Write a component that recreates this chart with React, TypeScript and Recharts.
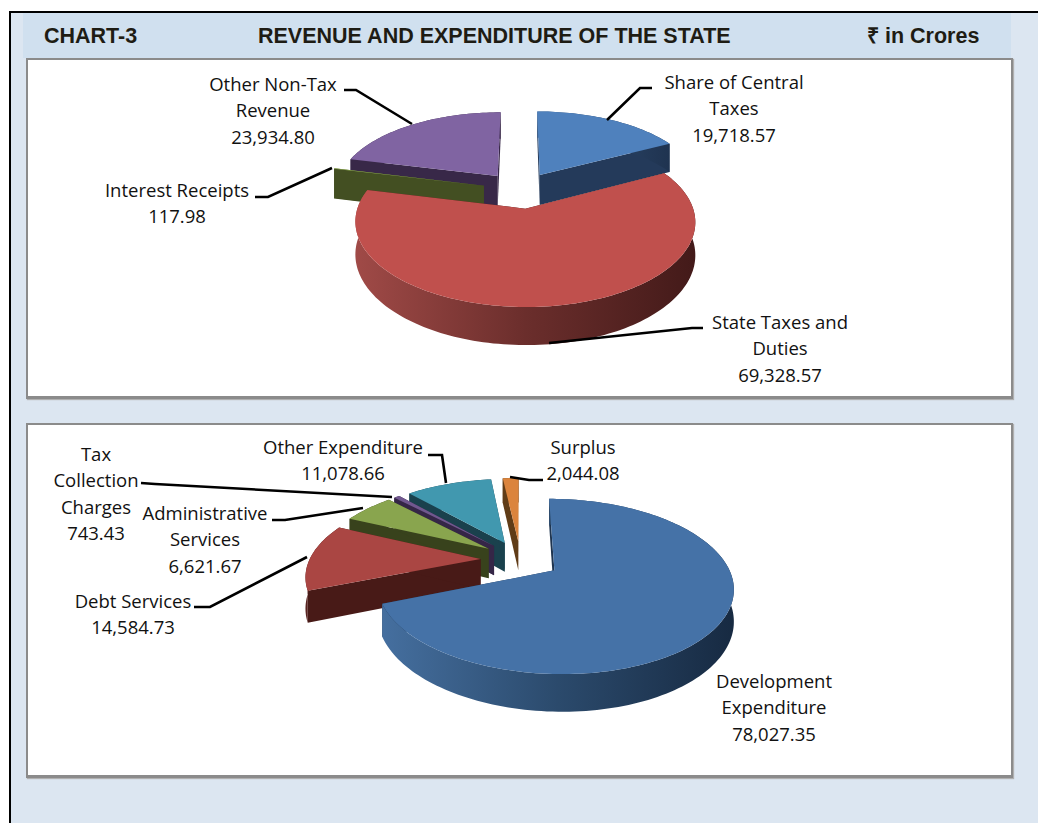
import React from 'react';
import { PieChart, Pie } from 'recharts';

const revenueCategories = ['Share of Central Taxes', 'State Taxes and Duties', 'Interest Receipts', 'Other Non-Tax Revenue'];
const revenueValues = [19718.57, 69328.57, 117.98, 23934.8];
const expenditureCategories = ['Development Expenditure', 'Debt Services', 'Administrative Services', 'Tax Collection Charges', 'Other Expenditure', 'Surplus'];
const expenditureValues = [78027.35, 14584.73, 6621.67, 743.43, 11078.66, 2044.08];

const revenueTable = revenueCategories.map((name, i) => ({ name, value: revenueValues[i] }));
const expenditureTable = expenditureCategories.map((name, i) => ({ name, value: expenditureValues[i] }));

type Paint = { top: string; wall: string; rim: [string, string, string] };
const paints: Record<string, Paint> = {
  'Share of Central Taxes': { top: '#4f81bd', wall: '#243a5a', rim: ['#3a5f8c', '#2a4466', '#1f3350'] },
  'State Taxes and Duties': { top: '#c0504d', wall: '#4a1c1a', rim: ['#a04a47', '#6b2e2c', '#431a19'] },
  'Interest Receipts': { top: '#9bbb59', wall: '#434f22', rim: ['#434f22', '#434f22', '#434f22'] },
  'Other Non-Tax Revenue': { top: '#8064a2', wall: '#382848', rim: ['#382848', '#382848', '#382848'] },
  'Development Expenditure': { top: '#4572a7', wall: '#1f3550', rim: ['#456f9f', '#2b4a6c', '#172a42'] },
  'Debt Services': { top: '#aa4643', wall: '#481a17', rim: ['#5a2522', '#481a17', '#481a17'] },
  'Administrative Services': { top: '#89a54e', wall: '#38421c', rim: ['#38421c', '#38421c', '#38421c'] },
  'Tax Collection Charges': { top: '#71588f', wall: '#352647', rim: ['#352647', '#352647', '#352647'] },
  'Other Expenditure': { top: '#4198af', wall: '#1a414d', rim: ['#1a414d', '#1a414d', '#1a414d'] },
  Surplus: { top: '#db843d', wall: '#603c17', rim: ['#603c17', '#603c17', '#603c17'] },
};

type Geo = { k: number; q: number; depth: number; explode: number };
const revenueGeo: Geo = { k: 0.477, q: 0.00093, depth: 31, explode: 38 };
const expenditureGeo: Geo = { k: 0.472, q: 0.00105, depth: 30, explode: 40 };

type Note = { lines: string[]; x: number; y: number; leader?: string };
const LINE = 26.3;
const notes: Record<string, Note> = {
  'Share of Central Taxes': { lines: ['Share of Central', 'Taxes'], x: 734, y: 89, leader: '607,120 640,88 652,88' },
  'State Taxes and Duties': { lines: ['State Taxes and', 'Duties'], x: 780, y: 329, leader: '549,343 692,328 703,328' },
  'Interest Receipts': { lines: ['Interest Receipts'], x: 177, y: 197, leader: '255,197 268,197 332,168' },
  'Other Non-Tax Revenue': { lines: ['Other Non-Tax', 'Revenue'], x: 273, y: 91, leader: '344,90 356,90 412,124' },
  'Development Expenditure': { lines: ['Development', 'Expenditure'], x: 774, y: 688 },
  'Debt Services': { lines: ['Debt Services'], x: 133, y: 608, leader: '194,607 210,607 307,557' },
  'Administrative Services': { lines: ['Administrative', 'Services'], x: 205, y: 520, leader: '272,520 285,520 363,508' },
  'Tax Collection Charges': { lines: ['Tax', 'Collection', 'Charges'], x: 96, y: 461, leader: '141,483 155,484 392,497' },
  'Other Expenditure': { lines: ['Other Expenditure'], x: 343, y: 454, leader: '428,455 442,455 446,483' },
  Surplus: { lines: ['Surplus'], x: 583, y: 454, leader: '543,480 529,480 510,477' },
};

const fmt = (v: number) => v.toLocaleString('en-US', { minimumFractionDigits: 2, maximumFractionDigits: 2 });

function makeShape(geo: Geo, only: string) {
  return function SliceShape(props: any) {
    const name = props.name ?? props.payload?.name;
    if (name !== only) return <g />;
    const { cx, cy, outerRadius: R, startAngle, endAngle } = props;
    const paint = paints[name];
    const rad = Math.PI / 180;
    const mid = ((startAngle + endAngle) / 2) * rad;
    const ou = geo.explode * Math.cos(mid);
    const ov = geo.explode * Math.sin(mid);
    const project = (u: number, v: number) => {
      const s = 1 / (1 + geo.q * v);
      return { x: cx + u * s, y: cy - v * geo.k * s, d: geo.depth * s };
    };
    const apex = project(ou, ov);
    const n = Math.max(2, Math.ceil(Math.abs(endAngle - startAngle) / 1.5));
    const arc = Array.from({ length: n + 1 }, (_, i) => {
      const a = (startAngle + ((endAngle - startAngle) * i) / n) * rad;
      return project(ou + R * Math.cos(a), ov + R * Math.sin(a));
    });
    const pt = (p: { x: number; y: number }, dy = 0) => `${p.x.toFixed(2)},${(p.y + dy).toFixed(2)}`;
    const first = arc[0];
    const last = arc[arc.length - 1];
    const minX = Math.min(...arc.map((p) => p.x));
    const maxX = Math.max(...arc.map((p) => p.x));
    const gid = `rim-${name.replace(/[^A-Za-z]/g, '')}`;
    const topPts = [pt(apex), ...arc.map((p) => pt(p))].join(' ');
    const rimPts = [...arc.map((p) => pt(p)), ...[...arc].reverse().map((p) => pt(p, p.d))].join(' ');
    const wallA = [pt(apex), pt(first), pt(first, first.d), pt(apex, apex.d)].join(' ');
    const wallB = [pt(apex), pt(last), pt(last, last.d), pt(apex, apex.d)].join(' ');
    return (
      <g>
        <defs>
          <linearGradient id={gid} gradientUnits="userSpaceOnUse" x1={minX} x2={maxX} y1={0} y2={0}>
            <stop offset="0" stopColor={paint.rim[0]} />
            <stop offset="0.5" stopColor={paint.rim[1]} />
            <stop offset="1" stopColor={paint.rim[2]} />
          </linearGradient>
        </defs>
        <polygon points={wallA} fill={paint.wall} />
        <polygon points={wallB} fill={paint.wall} />
        <polygon points={rimPts} fill={`url(#${gid})`} />
        <polygon points={topPts} fill={paint.top} />
      </g>
    );
  };
}

function renderNote(props: any) {
  const name = props.name ?? props.payload?.name;
  const value = props.value ?? props.payload?.value;
  const note = notes[name];
  if (!note) return <g />;
  const rows = [...note.lines, fmt(value)];
  return (
    <g>
      {note.leader && <polyline points={note.leader} fill="none" stroke="#000" strokeWidth={2.6} />}
      <text textAnchor="middle" fontFamily="'Open Sans', sans-serif" fontSize={18.5} fill="#111">
        {rows.map((row, i) => (
          <tspan key={i} x={note.x} y={note.y + i * LINE}>
            {row}
          </tspan>
        ))}
      </text>
    </g>
  );
}

function Layered({ table, order, geo, cx, cy, r }: { table: any[]; order: string[]; geo: Geo; cx: number; cy: number; r: number }) {
  return (
    <PieChart width={1038} height={823} margin={{ top: 0, right: 0, bottom: 0, left: 0 }} style={{ position: 'absolute', left: 0, top: 0 }}>
      {order.map((name, i) => {
        const shape = makeShape(geo, name);
        return (
          <Pie
            key={name}
            data={table}
            dataKey="value"
            nameKey="name"
            cx={cx}
            cy={cy}
            innerRadius={0}
            outerRadius={r}
            startAngle={90}
            endAngle={-270}
            stroke="none"
            isAnimationActive={false}
            shape={shape}
            label={i === order.length - 1 ? renderNote : false}
            labelLine={false}
          />
        );
      })}
    </PieChart>
  );
}

const panelStyle = (top: number, height: number): React.CSSProperties => ({
  position: 'absolute',
  left: 26,
  top,
  width: 983,
  height,
  background: '#fff',
  border: '2px solid #8b8b8b',
  borderBottomWidth: 3,
  borderRightWidth: 2,
  boxShadow: '1px 1px 1px #b0b0b0',
});

const headStyle: React.CSSProperties = {
  position: 'absolute',
  top: 23,
  fontFamily: "'Liberation Sans', Arial, sans-serif",
  fontWeight: 700,
  fontSize: 21.5,
  lineHeight: '26px',
  color: '#1e1c14',
  whiteSpace: 'nowrap',
};

export default function App() {
  return (
    <div style={{ position: 'absolute', left: 0, top: 0, width: 1038, height: 823, background: '#fff', overflow: 'hidden' }}>
      <div style={{ position: 'absolute', left: 8.5, top: 11, width: 1030, height: 812, background: '#dce6f1', borderLeft: '2.5px solid #000', borderTop: '2px solid #000', boxSizing: 'border-box' }} />
      <div style={{ position: 'absolute', left: 23, top: 13, width: 988, height: 45, background: '#d0e0ef' }} />
      <div style={{ ...headStyle, left: 44 }}>CHART-3</div>
      <div style={{ ...headStyle, left: 258 }}>REVENUE AND EXPENDITURE OF THE STATE</div>
      <div style={{ ...headStyle, left: 867 }}>₹ in Crores</div>
      <div style={panelStyle(58, 336)} />
      <div style={panelStyle(423, 350)} />
      <Layered
        table={revenueTable}
        order={['Other Non-Tax Revenue', 'Interest Receipts', 'Share of Central Taxes', 'State Taxes and Duties']}
        geo={revenueGeo}
        cx={520.5}
        cy={190}
        r={162}
      />
      <Layered
        table={expenditureTable}
        order={['Surplus', 'Other Expenditure', 'Tax Collection Charges', 'Administrative Services', 'Debt Services', 'Development Expenditure']}
        geo={expenditureGeo}
        cx={520.5}
        cy={559.5}
        r={171}
      />
    </div>
  );
}
